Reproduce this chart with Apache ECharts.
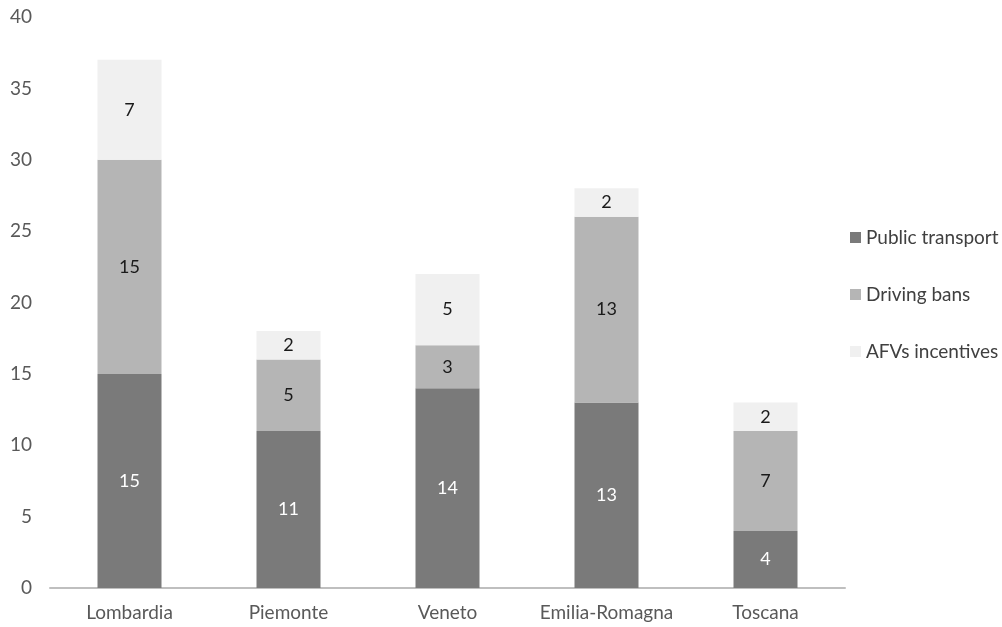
<!DOCTYPE html>
<html>
<head>
<meta charset="utf-8">
<script src="https://cdn.jsdelivr.net/npm/echarts@6/dist/echarts.min.js"></script>
<style>
  html, body { margin: 0; padding: 0; background: #fff; }
  #chart { width: 1002px; height: 627px; }
</style>
</head>
<body>
<div id="chart"></div>
<script>
// regions and measures counts
const regions = ['Lombardia', 'Piemonte', 'Veneto', 'Emilia-Romagna', 'Toscana'];
const publicTransport = [15, 11, 14, 13, 4];
const drivingBans = [15, 5, 3, 13, 7];
const afvIncentives = [7, 2, 5, 2, 2];

const FONT = 'Lato, "Open Sans", sans-serif';
const AXIS_TEXT = '#595959';

function barSeries(name, data, color, labelColor) {
    return {
        name: name, type: 'bar', stack: 'total', data: data,
        barWidth: 64,
        itemStyle: { color: color },
        label: { show: true, position: 'inside', color: labelColor, fontSize: 18, fontFamily: FONT }
    };
}

const chart = echarts.init(document.getElementById('chart'));
chart.setOption({
    backgroundColor: '#fff',
    animation: false,
    grid: { left: 50, right: 157, top: 17, bottom: 39, containLabel: false },
    legend: {
        orient: 'vertical', left: 845, top: 223, itemGap: 38,
        itemWidth: 11, itemHeight: 11, icon: 'rect',
        textStyle: { color: '#404040', fontSize: 19, fontFamily: FONT },
        data: ['Public transport', 'Driving bans', 'AFVs incentives']
    },
    xAxis: {
        type: 'category', data: regions,
        axisLine: { lineStyle: { color: '#bfbfbf', width: 2 } },
        axisTick: { show: false },
        axisLabel: { color: AXIS_TEXT, fontSize: 19, fontFamily: FONT, margin: 15, interval: 0 }
    },
    yAxis: {
        type: 'value', min: 0, max: 40, interval: 5,
        axisLine: { show: false }, axisTick: { show: false },
        splitLine: { show: false },
        axisLabel: { color: AXIS_TEXT, fontSize: 19, fontFamily: FONT, margin: 18 }
    },
    series: [
        barSeries('Public transport', publicTransport, '#7a7a7a', '#ffffff'),
        barSeries('Driving bans', drivingBans, '#b5b5b5', '#1a1a1a'),
        barSeries('AFVs incentives', afvIncentives, '#f0f0f0', '#1a1a1a')
    ]
});
</script>
</body>
</html>
